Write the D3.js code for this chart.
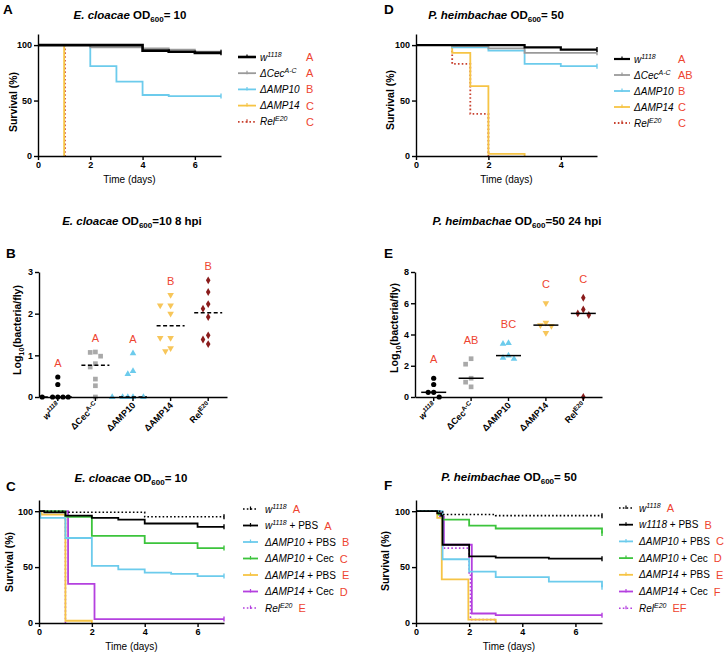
<!DOCTYPE html>
<html><head><meta charset="utf-8">
<script src="https://cdn.jsdelivr.net/npm/d3@7"></script>
<style>body{margin:0;background:#fff}svg{display:block}</style>
</head><body><svg id="c" width="724" height="656"></svg>
<script>
// ---------------- DATA ----------------
const genotypes = ["*w^1118^*", "ΔCec^A-C^", "ΔAMP10", "ΔAMP14", "Rel^E20^"];

// Panel A: E. cloacae survival (time days, survival %)
const survA_w1118 = [[0,100],[4,95],[5,94],[6,93],[7,93]];
const survA_cec   = [[0,100],[2,98],[4,97],[5,96],[6,94],[7,94]];
const survA_amp10 = [[0,100],[2,81],[3,67],[4,55],[5,54],[7,54]];
const survA_amp14 = [[0,100],[1,0]];
const survA_rel   = [[0,100],[1.03,0]];
const legendA  = ["*w^1118^*", "*ΔCec^A-C^*", "*ΔAMP10*", "*ΔAMP14*", "*Rel^E20^*"];
const lettersA = ["A","A","B","C","C"];

// Panel D: P. heimbachae survival
const survD_w1118 = [[0,100],[3,98],[4,96],[5,96]];
const survD_cec   = [[0,100],[1,99],[2,97],[3,93],[5,93]];
const survD_amp10 = [[0,100],[1,98],[2,95],[3,83],[4,81],[5,81]];
const survD_amp14 = [[0,100],[1,93],[1.5,63],[2,2],[3,0]];
const survD_rel   = [[0,100],[1,83],[1.5,38],[2,0]];
const legendD  = ["*w^1118^*", "*ΔCec^A-C^*", "*ΔAMP10*", "*ΔAMP14*", "*Rel^E20^*"];
const lettersD = ["A","AB","B","C","C"];

// Panel C: E. cloacae survival with Cecropin injection
const survC_w1118     = [[0,100],[1,99],[4,95],[7,95]];
const survC_w1118PBS  = [[0,100],[0.2,99],[1,96],[2,94],[3,92.5],[4,89],[6,86],[7,86]];
const survC_amp10PBS  = [[0,100],[0.05,94],[1,76],[2,51],[3,48],[4,45],[5,44],[6,42],[7,42]];
const survC_amp10Cec  = [[0,100],[1,95],[2,78],[4,71.5],[6,67],[7,67]];
const survC_amp14PBS  = [[0,100],[0.1,97],[1,2],[2,0]];
const survC_amp14Cec  = [[0,100],[1.1,35],[2.1,3.5],[7,3.5]];
const survC_rel       = [[0,100],[1,0]];
const legendC  = ["*w^1118^*", "*w^1118^* + PBS", "*ΔAMP10* + PBS", "*ΔAMP10* + Cec", "*ΔAMP14* + PBS", "*ΔAMP14* + Cec", "*Rel^E20^*"];
const lettersC = ["A","A","B","C","E","D","E"];

// Panel F: P. heimbachae survival with Cecropin injection
const survF_w1118     = [[0,100],[1,97],[3,96],[7,96]];
const survF_w1118PBS  = [[0,100],[0.8,98],[0.95,96],[1,70],[2,59.5],[3,58.5],[5,57.5],[7,57.5]];
const survF_amp10PBS  = [[0,100],[1,57],[2,46],[3,41],[5,37],[7,32]];
const survF_amp10Cec  = [[0,100],[0.85,97],[1,92.5],[2,87],[3,84.5],[7,80]];
const survF_amp14PBS  = [[0,100],[0.8,94],[0.97,39],[1.97,3],[3,0]];
const survF_amp14Cec  = [[0,100],[0.9,95],[1.05,70],[2.1,8.5],[3,7],[7,7]];
const survF_rel       = [[0,100],[1,67],[2,44],[2.05,3],[3,0]];
const legendF  = ["*w^1118^*", "*w1118* + PBS", "*ΔAMP10* + PBS", "*ΔAMP10* + Cec", "*ΔAMP14* + PBS", "*ΔAMP14* + Cec", "*Rel^E20^*"];
const lettersF = ["A","B","C","D","E","F","EF"];

// Panel B: log10 bacteria/fly, E. cloacae 8 hpi
const cfuB_w1118 = [0.48,0.3,0,0,0,0,0];
const cfuB_cec   = [1.08,1.07,0.98,0.8,0.72,0.43,0.27,0];
const cfuB_amp10 = [1.05,0.62,0.55,0,0,0,0,0];
const cfuB_amp14 = [2.45,2.2,2.2,2.0,1.42,1.42,1.17,1.1];
const cfuB_rel   = [2.8,2.52,2.23,2.12,1.92,1.48,1.38,1.27];
const lettersB = ["A","A","A","B","B"];

// Panel E: log10 bacteria/fly, P. heimbachae 24 hpi
const cfuE_w1118 = [1.2,0.8,0.3,0.3,0];
const cfuE_cec   = [2.45,2.1,1.2,0.95,0.65];
const cfuE_amp10 = [3.45,3.4,2.65,2.5,2.45];
const cfuE_amp14 = [6.0,4.75,4.6,4.55,4.1];
const cfuE_rel   = [6.35,5.6,5.35,5.25,0];
const lettersE = ["A","AB","BC","C","C"];

// Tick values
const survTicksY = [0,50,100];
const survTicksX7 = [0,2,4,6];
const survTicksX5 = [0,2,4];
const cfuTicksB = [0,1,2,3];
const cfuTicksE = [0,2,4,6,8];

// ---------------- DRAWING ----------------
const FONT = "'Liberation Sans', Arial, Helvetica, sans-serif";
const RED = "#ee4430";
const fmt = d3.format("d");
const svg = d3.select("#c").attr("font-family", FONT);

function rich(sel, str, fs) {
  const segs = []; let it=false, sup=false, sub=false, buf="";
  const flush = () => { if (buf) segs.push({t:buf, it, sup, sub}); buf=""; };
  for (const ch of str) {
    if (ch === "*") { flush(); it = !it; }
    else if (ch === "^") { flush(); sup = !sup; }
    else if (ch === "_") { flush(); sub = !sub; }
    else buf += ch;
  }
  flush();
  let shift = 0;
  segs.forEach(s => {
    const target = s.sup ? -0.4*fs : (s.sub ? 0.3*fs : 0);
    const ts = sel.append("tspan").text(s.t);
    if (target !== shift) ts.attr("dy", target - shift);
    shift = target;
    if (s.it) ts.attr("font-style", "italic");
    if (s.sup || s.sub) ts.attr("font-size", (fs*0.7).toFixed(1));
  });
  return sel;
}

function styleAxis(g) {
  g.select(".domain").attr("stroke","#000").attr("stroke-width",1.4);
  g.selectAll(".tick line").attr("stroke","#000").attr("stroke-width",1.4);
  g.selectAll(".tick text").attr("font-size",9).attr("font-weight","bold").attr("fill","#000").attr("font-family",FONT);
}

function panelLetter(t, x, y) {
  svg.append("text").attr("x",x).attr("y",y).attr("font-size",13.5).attr("font-weight","bold").text(t);
}
function title(str, x, y) {
  rich(svg.append("text").attr("x",x).attr("y",y).attr("text-anchor","middle").attr("font-size",11.5).attr("font-weight","bold"), str, 11.5);
}
function yLabel(str, x, y, fs) {
  rich(svg.append("text").attr("transform",`translate(${x},${y}) rotate(-90)`).attr("text-anchor","middle").attr("font-size",fs).attr("font-weight","bold"), str, fs);
}

function survPanel(c) {
  const xs = d3.scaleLinear().domain([0,c.xMax]).range([c.x0,c.x1]);
  const ys = d3.scaleLinear().domain([0,110]).range([c.yBot,c.yTop]);
  const line = d3.line().x(d=>xs(d[0])).y(d=>ys(d[1])).curve(d3.curveStepAfter);
  const g = svg.append("g");
  c.series.slice().reverse().forEach(s => {
    g.append("path").attr("d", line(s.data)).attr("fill","none").attr("stroke",s.color)
      .attr("stroke-width",s.w).attr("stroke-dasharray",s.dash||null);
    const last = s.data[s.data.length-1];
    if (last[0] >= c.xMax && last[1] > 0) {
      g.append("line").attr("x1",xs(last[0])).attr("x2",xs(last[0]))
        .attr("y1",ys(last[1])-2.5).attr("y2",ys(last[1])+2.5).attr("stroke",s.color).attr("stroke-width",1.4);
    }
  });
  const gx = svg.append("g").attr("transform",`translate(0,${c.yBot})`)
    .call(d3.axisBottom(xs).tickValues(c.xTicks).tickFormat(fmt).tickSize(4).tickSizeOuter(0).tickPadding(2));
  styleAxis(gx);
  const gy = svg.append("g").attr("transform",`translate(${c.x0},0)`)
    .call(d3.axisLeft(ys).tickValues(survTicksY).tickFormat(fmt).tickSize(4).tickSizeOuter(0).tickPadding(2));
  styleAxis(gy);
  svg.append("text").attr("x",(c.x0+c.x1)/2).attr("y",c.yBot+27).attr("text-anchor","middle").attr("font-size",10).text("Time (days)");
  yLabel("Survival (%)", c.ylx, c.yly, 10.5);
  // legend
  const L = c.legend;
  c.series.forEach((s,i) => {
    const y = L.y0 + i*L.dy;
    svg.append("line").attr("x1",L.lx0).attr("x2",L.lx1).attr("y1",y).attr("y2",y)
      .attr("stroke",s.color).attr("stroke-width",s.w).attr("stroke-dasharray",s.dash||null);
    svg.append("line").attr("x1",(L.lx0+L.lx1)/2).attr("x2",(L.lx0+L.lx1)/2).attr("y1",y-2.5).attr("y2",y+1)
      .attr("stroke",s.color).attr("stroke-width",1.2);
    const t = rich(svg.append("text").attr("x",L.tx).attr("y",y+3.5).attr("font-size",10), L.labels[i], 10);
    const lx = L.letterX != null ? L.letterX : L.tx + t.node().getComputedTextLength() + 6;
    svg.append("text").attr("x",lx).attr("y",y+4).attr("font-size",11).attr("fill",RED).text(L.letters[i]);
  });
}

function swarm(vals, ys, cx, step, minD) {
  const pts = vals.map(v => ({v, y: ys(v)})).sort((a,b) => a.y - b.y);
  const placed = [];
  pts.forEach(p => {
    for (let k = 0; k < 30; k++) {
      const off = k === 0 ? 0 : (k % 2 ? -1 : 1) * Math.ceil(k/2) * step;
      const x = cx + off;
      if (placed.every(q => Math.hypot(q.x - x, q.y - p.y) >= minD)) { p.x = x; placed.push(p); break; }
    }
  });
  return placed;
}

function cfuPanel(c) {
  const xb = d3.scaleBand().domain(d3.range(genotypes.length)).range([c.x0,c.x1]);
  const ys = d3.scaleLinear().domain([0,c.yMax]).range([c.yBot,c.yTop]);
  const symbols = [
    {type:d3.symbolCircle, size:21, fill:"#000", rot:0},
    {type:d3.symbolSquare, size:22, fill:"#a9a9a9", rot:0},
    {type:d3.symbolTriangle, size:19, fill:"#6ccbec", rot:0},
    {type:d3.symbolTriangle, size:19, fill:"#f7c65a", rot:180},
    {type:d3.symbolDiamond, size:18, fill:"#8a1c1c", rot:0}
  ];
  c.groups.forEach((vals,i) => {
    const cx = xb(i) + xb.bandwidth()/2;
    const sym = symbols[i];
    swarm(vals, ys, cx, c.step, c.minD).forEach(p => {
      svg.append("path").attr("d", d3.symbol().type(sym.type).size(sym.size)())
        .attr("transform",`translate(${p.x},${p.y}) rotate(${sym.rot})`).attr("fill",sym.fill);
    });
  });
  const gx = svg.append("g").attr("transform",`translate(0,${c.yBot})`)
    .call(d3.axisBottom(xb).tickSize(4).tickSizeOuter(0).tickFormat(""));
  styleAxis(gx);
  const gy = svg.append("g").attr("transform",`translate(${c.x0},0)`)
    .call(d3.axisLeft(ys).tickValues(c.yTicks).tickFormat(fmt).tickSize(4).tickSizeOuter(0).tickPadding(2));
  styleAxis(gy);
  c.groups.forEach((vals,i) => {
    const cx = xb(i) + xb.bandwidth()/2;
    const m = d3.median(vals);
    svg.append("line").attr("x1",cx-c.mw).attr("x2",cx+c.mw).attr("y1",ys(m)).attr("y2",ys(m))
      .attr("stroke","#000").attr("stroke-width",1.5).attr("stroke-dasharray",c.dash||null);
    svg.append("text").attr("x",cx).attr("y",ys(d3.max(vals)) - c.letterOff).attr("text-anchor","middle")
      .attr("font-size",11).attr("fill",RED).text(c.letters[i]);
    rich(svg.append("text").attr("transform",`translate(${cx+3},${c.yBot+9}) rotate(-45)`)
      .attr("text-anchor","end").attr("font-size",9).attr("font-weight","bold"), genotypes[i], 9);
  });
  yLabel("Log_10_(bacteria/fly)", c.ylx, c.yly, 10.5);
}

const BLACK="#000", GRAY="#9a9a9a", BLUE="#6ccbec", YEL="#f6c445", DRED="#c8412f", GREEN="#3cc43c", PURP="#b440df";
const DOT = "1.6,2.2";

// Panel A
panelLetter("A", 3, 14);
title("*E. cloacae* OD_600_= 10", 130, 19);
survPanel({x0:38, x1:221, xMax:7, yTop:34, yBot:156, xTicks:survTicksX7, ylx:17, yly:102,
  series:[
    {data:survA_w1118, color:BLACK, w:2.6},
    {data:survA_cec, color:GRAY, w:1.8},
    {data:survA_amp10, color:BLUE, w:1.8},
    {data:survA_amp14, color:YEL, w:1.8},
    {data:survA_rel, color:DRED, w:1.8, dash:DOT}],
  legend:{labels:legendA, letters:lettersA, lx0:238, lx1:256, tx:260, letterX:306, y0:57, dy:16.2}});

// Panel D
panelLetter("D", 384, 14);
title("*P. heimbachae* OD_600_= 50", 496, 19);
survPanel({x0:416, x1:597, xMax:5, yTop:34, yBot:156, xTicks:survTicksX5, ylx:394, yly:100,
  series:[
    {data:survD_w1118, color:BLACK, w:2.2},
    {data:survD_cec, color:GRAY, w:1.8},
    {data:survD_amp10, color:BLUE, w:1.8},
    {data:survD_amp14, color:YEL, w:1.8},
    {data:survD_rel, color:DRED, w:1.8, dash:DOT}],
  legend:{labels:legendD, letters:lettersD, lx0:614, lx1:630, tx:634, letterX:678, y0:59, dy:16}});

// Panel B
title("*E. cloacae* OD_600_=10 8 hpi", 132, 225);
panelLetter("B", 6, 258);
cfuPanel({x0:39, x1:227, yTop:272, yBot:397, yMax:3, yTicks:cfuTicksB, step:5.2, minD:5.2, mw:14, dash:"4,2.5",
  groups:[cfuB_w1118, cfuB_cec, cfuB_amp10, cfuB_amp14, cfuB_rel], letters:lettersB, letterOff:10, ylx:21, yly:330});

// Panel E
title("*P. heimbachae* OD_600_=50 24 hpi", 517, 225);
panelLetter("E", 384, 258);
cfuPanel({x0:415, x1:602, yTop:272, yBot:397, yMax:8, yTicks:cfuTicksE, step:5.5, minD:5.5, mw:12.5, dash:null,
  groups:[cfuE_w1118, cfuE_cec, cfuE_amp10, cfuE_amp14, cfuE_rel], letters:lettersE, letterOff:15, ylx:398, yly:328});

// Panel C
panelLetter("C", 6, 491);
title("*E. cloacae* OD_600_= 10", 131, 482);
survPanel({x0:39, x1:224, xMax:7, yTop:500, yBot:623, xTicks:survTicksX7, ylx:13, yly:562,
  series:[
    {data:survC_w1118, color:BLACK, w:1.6, dash:DOT},
    {data:survC_w1118PBS, color:BLACK, w:1.8},
    {data:survC_amp10PBS, color:BLUE, w:1.8},
    {data:survC_amp10Cec, color:GREEN, w:1.8},
    {data:survC_amp14PBS, color:YEL, w:1.8},
    {data:survC_amp14Cec, color:PURP, w:1.8},
    {data:survC_rel, color:PURP, w:1.6, dash:DOT}],
  legend:{labels:legendC, letters:lettersC, lx0:243, lx1:258, tx:265, letterX:null, y0:509, dy:16.5}});

// Panel F
panelLetter("F", 384, 490);
title("*P. heimbachae* OD_600_= 50", 509, 481);
survPanel({x0:416, x1:602, xMax:7, yTop:500, yBot:623, xTicks:survTicksX7, ylx:389, yly:561,
  series:[
    {data:survF_w1118, color:BLACK, w:1.6, dash:DOT},
    {data:survF_w1118PBS, color:BLACK, w:1.8},
    {data:survF_amp10PBS, color:BLUE, w:1.8},
    {data:survF_amp10Cec, color:GREEN, w:1.8},
    {data:survF_amp14PBS, color:YEL, w:1.8},
    {data:survF_amp14Cec, color:PURP, w:1.8},
    {data:survF_rel, color:PURP, w:1.6, dash:DOT}],
  legend:{labels:legendF, letters:lettersF, lx0:619, lx1:633, tx:639, letterX:null, y0:508, dy:16.7}});
</script></body></html>
